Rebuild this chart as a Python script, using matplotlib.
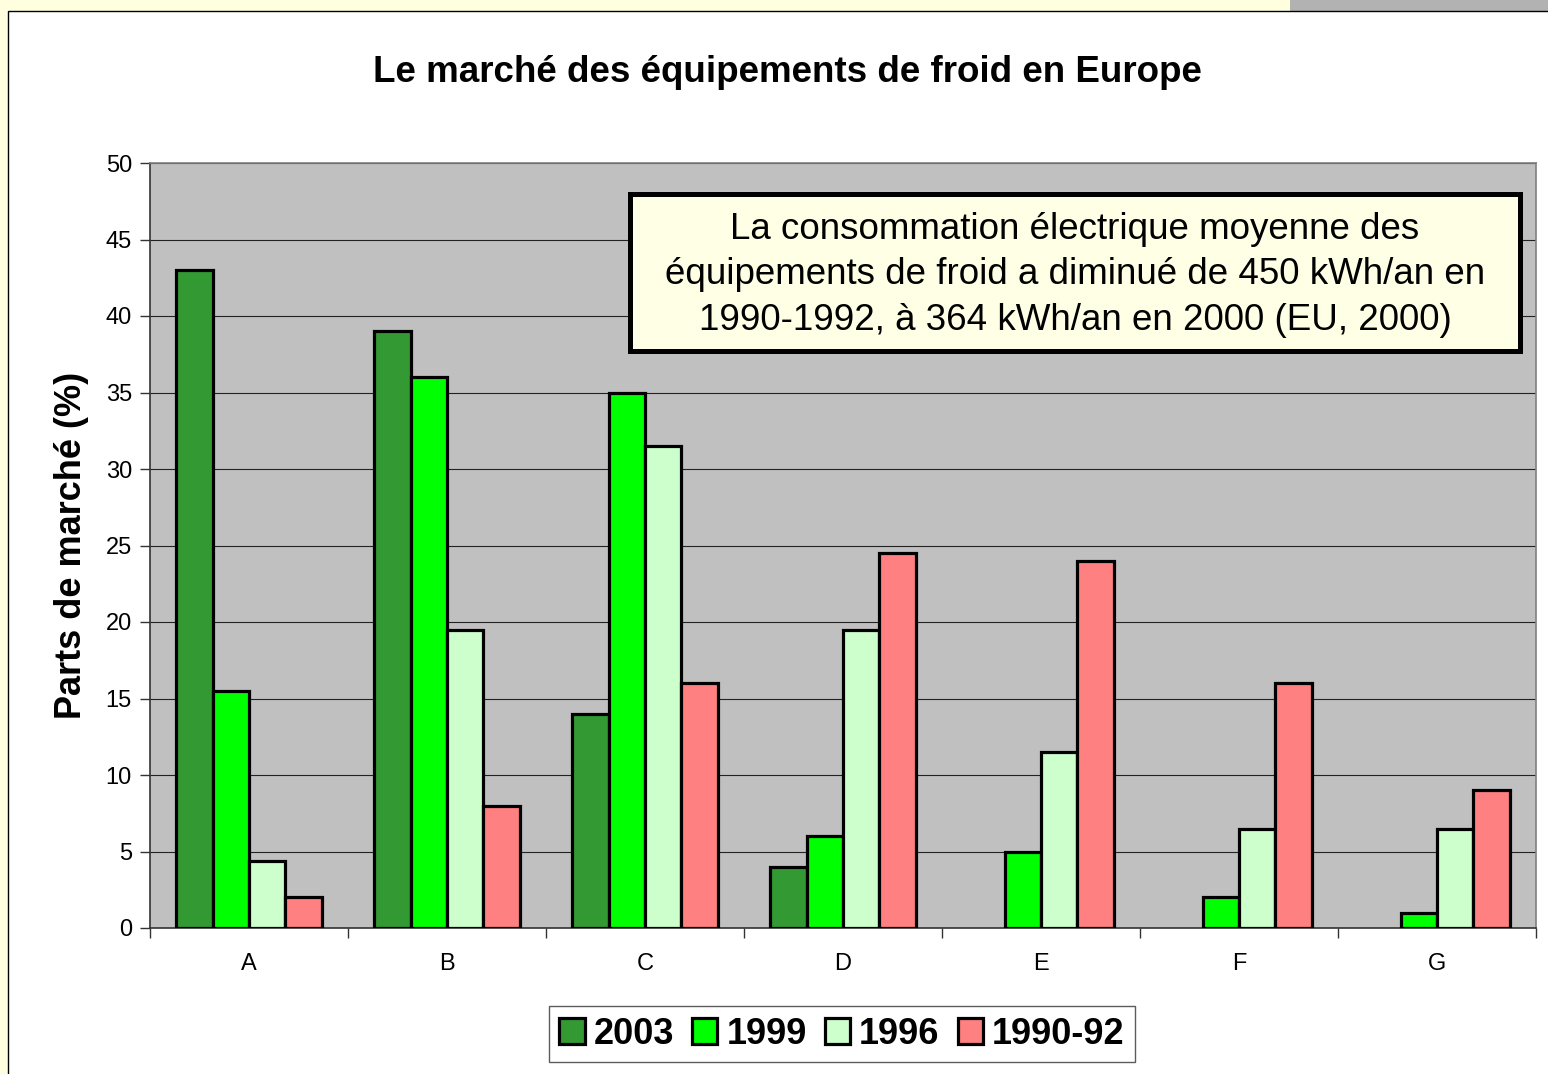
import numpy as np
import matplotlib
matplotlib.use("Agg")
import matplotlib.pyplot as plt
from matplotlib.patches import Rectangle

plt.rcParams["font.family"] = ["Liberation Sans", "DejaVu Sans"]

categories = ["A", "B", "C", "D", "E", "F", "G"]
series_names = ["2003", "1999", "1996", "1990-92"]
v2003 = [43, 39, 14, 4, 0, 0, 0]
v1999 = [15.5, 36, 35, 6, 5, 2, 1]
v1996 = [4.4, 19.5, 31.5, 19.5, 11.5, 6.5, 6.5]
v1990 = [2, 8, 16, 24.5, 24, 16, 9]
colors = ["#339933", "#00FF00", "#CCFFCC", "#FF8080"]

title = "Le marché des équipements de froid en Europe"
note = ("La consommation électrique moyenne des\n"
        "équipements de froid a diminué de 450 kWh/an en\n"
        "1990-1992, à 364 kWh/an en 2000 (EU, 2000)")

W, H = 1548, 1074
fig = plt.figure(figsize=(W / 100, H / 100), dpi=100)
fig.patch.set_facecolor("#FFFFE0")

# page decorations: grey tab top right and white chart panel
fig.add_artist(Rectangle((1290 / W, 1 - 11 / H), 258 / W, 11 / H,
                         transform=fig.transFigure, facecolor="#B2B2B2",
                         edgecolor="none", zorder=-2))
fig.add_artist(Rectangle((8 / W, -0.01), 1.0, 1 - 11 / H + 0.01,
                         transform=fig.transFigure, facecolor="white",
                         edgecolor="black", linewidth=1, zorder=-1))

ax = fig.add_axes([150 / W, 1 - 928 / H, (1536 - 150) / W, (928 - 163) / H])
ax.set_facecolor("#C0C0C0")

x = np.arange(len(categories))
bw = 0.184
all_vals = [v2003, v1999, v1996, v1990]
for i, (vals, c, name) in enumerate(zip(all_vals, colors, series_names)):
    # no outline on empty (zero) bars
    lws = [2.3 if v > 0 else 0 for v in vals]
    ax.bar(x + (i - 1.5) * bw, vals, width=bw, color=c, edgecolor="black",
           linewidth=lws, label=name, zorder=3)

ax.set_xlim(-0.5, len(categories) - 0.5)
ax.set_ylim(0, 50)
ax.set_yticks(np.arange(0, 51, 5))
ax.yaxis.grid(True, color="#222222", linewidth=0.8, zorder=0)
ax.set_axisbelow(True)

ax.set_xticks(x)
ax.set_xticklabels(categories, fontsize=17)
ax.set_xticks(np.arange(-0.5, len(categories), 1), minor=True)
ax.tick_params(axis="x", which="major", length=0, pad=18)
ax.tick_params(axis="x", which="minor", length=7, width=1, color="#333333", direction="out")
ax.tick_params(axis="y", length=7, width=1, color="#333333", labelsize=17, pad=6)

ax.spines["top"].set_color("#808080")
ax.spines["right"].set_color("#808080")
ax.spines["left"].set_color("#333333")
ax.spines["bottom"].set_color("#333333")
for s in ax.spines.values():
    s.set_linewidth(1.2)

ax.set_ylabel("Parts de marché (%)", fontsize=26, fontweight="bold", labelpad=12)
fig.text(787 / W, 1 - 72 / H, title, fontsize=26.5, fontweight="bold",
         ha="center", va="center")

# note box
fig.add_artist(Rectangle((630 / W, 1 - 351 / H), 890 / W, 157 / H,
                         transform=fig.transFigure, facecolor="#FFFFE5",
                         edgecolor="black", linewidth=3.6, zorder=5))
fig.text(1075 / W, 1 - 275 / H, note, fontsize=26.5, ha="center", va="center",
         linespacing=1.38, zorder=6)

leg = fig.legend(loc="center", bbox_to_anchor=(842 / W, 1 - 1034 / H), ncol=4,
                 prop={"size": 26, "weight": "bold"}, frameon=True, fancybox=False,
                 edgecolor="#333333", handlelength=0.7, handleheight=0.75,
                 handletextpad=0.25, columnspacing=0.5, borderpad=0.3,
                 borderaxespad=0)
leg.get_frame().set_linewidth(1)

fig.savefig("out.png", dpi=100, facecolor=fig.get_facecolor())
